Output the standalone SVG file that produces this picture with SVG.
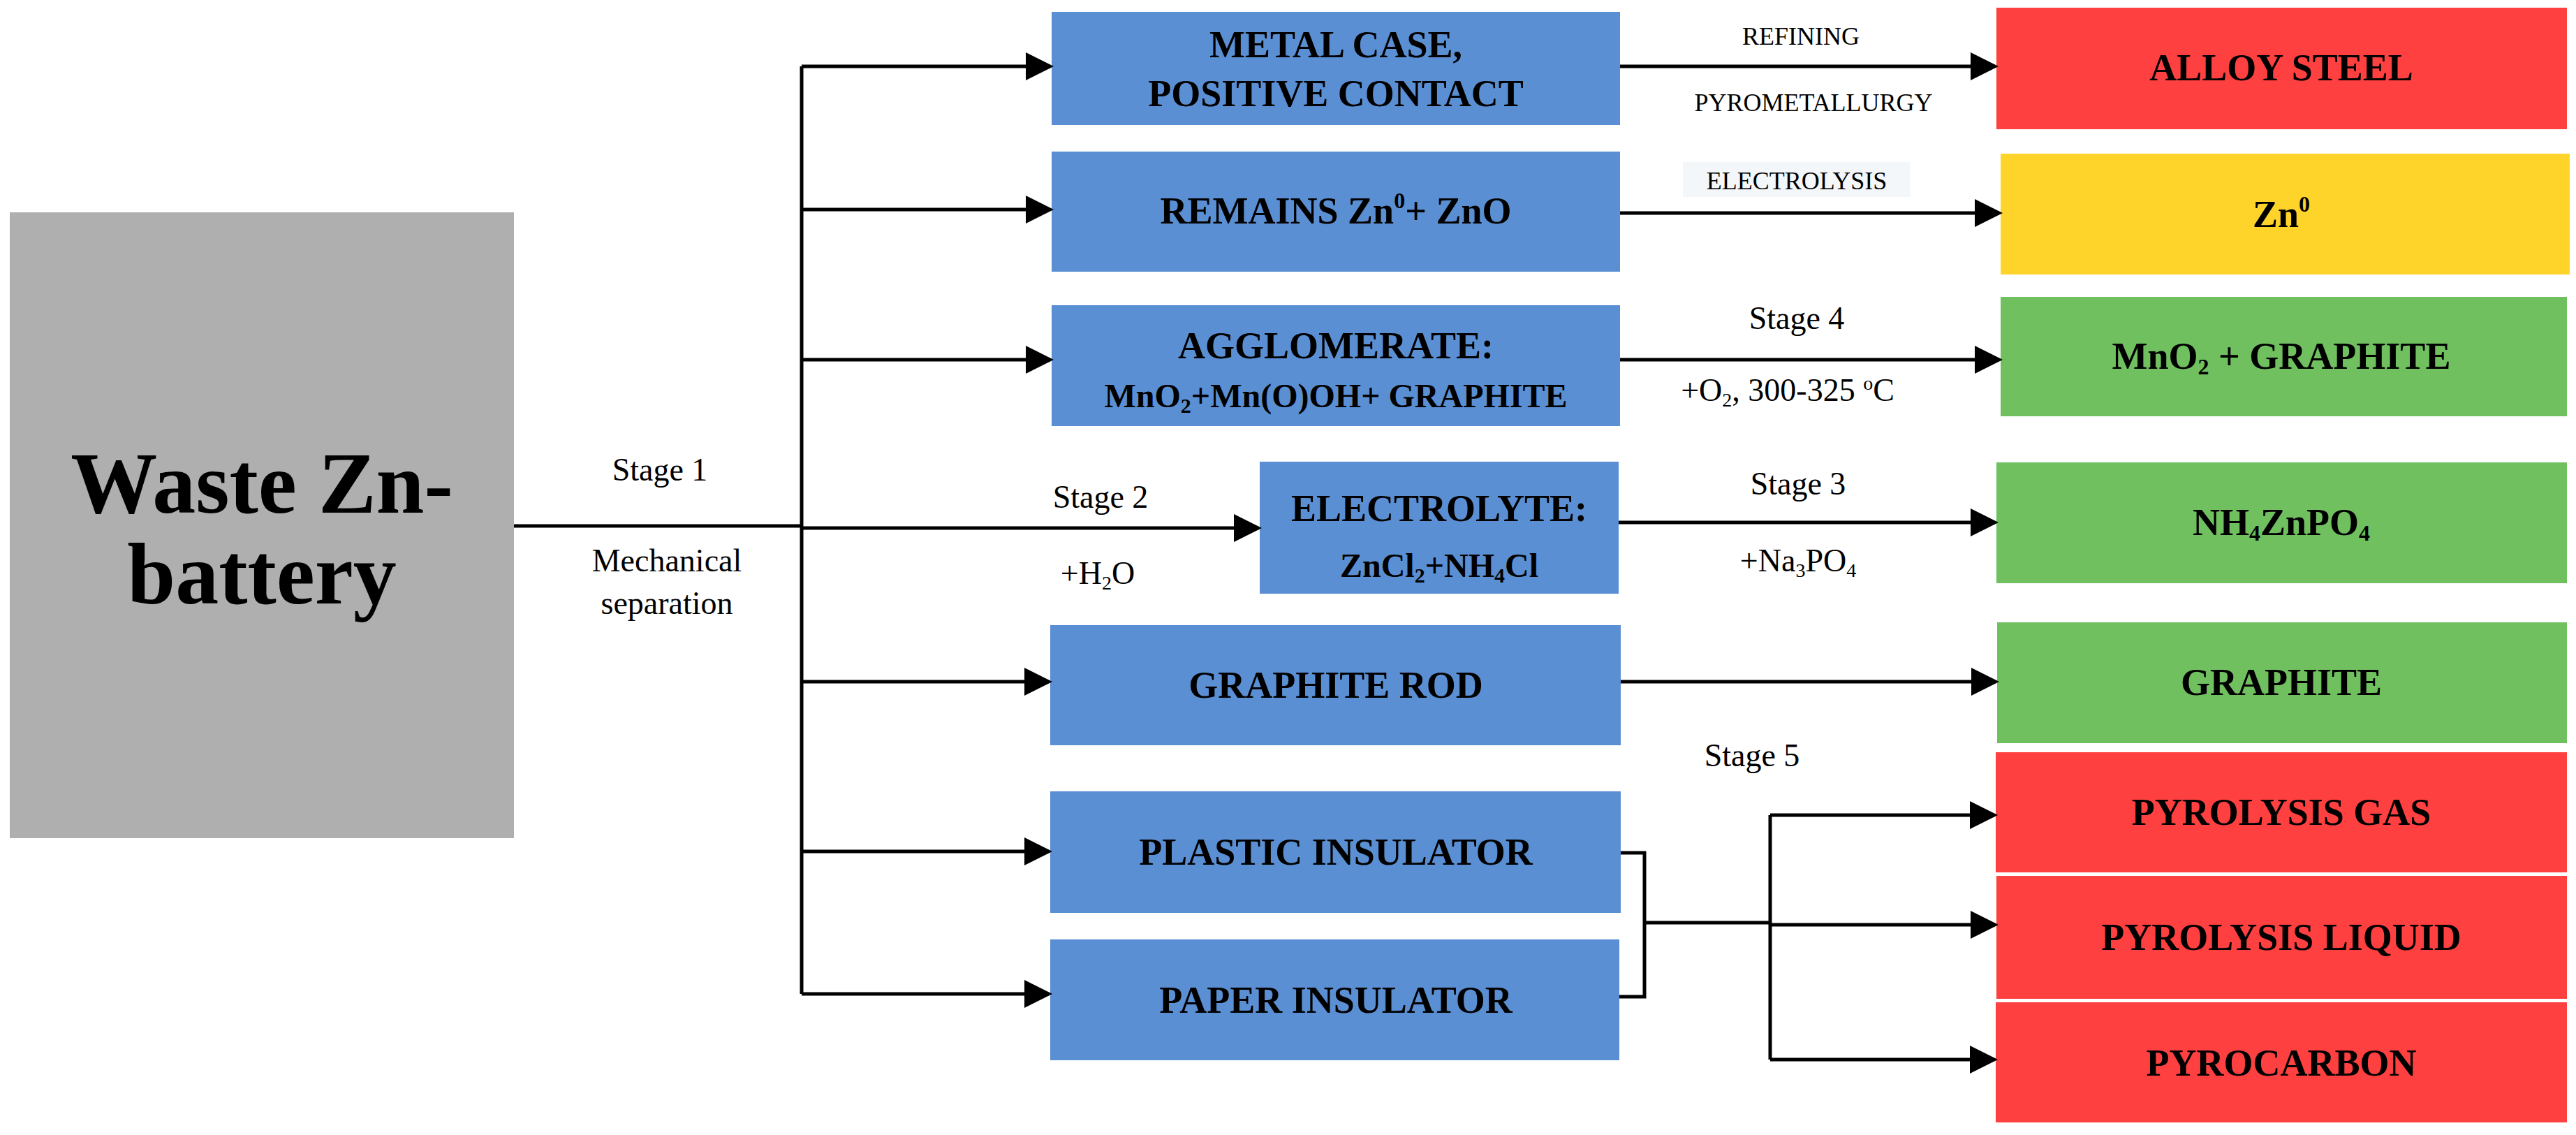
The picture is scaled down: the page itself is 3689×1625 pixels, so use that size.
<svg xmlns="http://www.w3.org/2000/svg" width="3689" height="1625" viewBox="0 0 3689 1625">
<style>
.b{fill:#5B8FD3}.r{fill:#FF4040}.y{fill:#FFD42A}.g{fill:#70C060}
.t{font-family:"Liberation Serif","Times New Roman",serif;font-weight:bold;font-size:54px;text-anchor:middle;fill:#000}
.s{font-family:"Liberation Serif","Times New Roman",serif;font-size:46px;text-anchor:middle;fill:#000}
.m{font-family:"Liberation Serif","Times New Roman",serif;font-size:36px;text-anchor:middle;fill:#000}
.c path{stroke:#000;stroke-width:5;fill:none}
</style>
<defs><marker id="a" markerWidth="8" markerHeight="8" refX="7" refY="4" orient="auto" markerUnits="strokeWidth"><path d="M0,0 L8,4 L0,8 z" fill="#000"/></marker></defs>
<rect width="3689" height="1625" fill="#fff"/>
<g id="waste"><rect x="14" y="304" width="722" height="896" fill="#AFAFAF"/>
<text class="t" x="375" y="734" style="font-size:124px">Waste Zn-</text><text class="t" x="375" y="864" style="font-size:124px">battery</text></g>
<g id="metal"><rect class="b" x="1506" y="17" width="814" height="162"/><text class="t" x="1913" y="82">METAL CASE,</text><text class="t" x="1913" y="152">POSITIVE CONTACT</text></g>
<g id="remains"><rect class="b" x="1506" y="217" width="814" height="172"/><text class="t" x="1913" y="320">REMAINS Zn<tspan style="font-size:32px" dy="-22">0</tspan><tspan dy="22">+ ZnO</tspan></text></g>
<g id="agglo"><rect class="b" x="1506" y="437" width="814" height="173"/><text class="t" x="1913" y="513">AGGLOMERATE:</text><text class="t" x="1913" y="583" style="font-size:48px">MnO<tspan style="font-size:30px" dy="8">2</tspan><tspan dy="-8">+Mn(O)OH+ GRAPHITE</tspan></text></g>
<g id="electrolyte"><rect class="b" x="1804" y="661" width="514" height="189"/><text class="t" x="2061" y="746">ELECTROLYTE:</text><text class="t" x="2061" y="826" style="font-size:48px">ZnCl<tspan style="font-size:30px" dy="8">2</tspan><tspan dy="-8">+NH</tspan><tspan style="font-size:30px" dy="8">4</tspan><tspan dy="-8">Cl</tspan></text></g>
<g id="rod"><rect class="b" x="1504" y="895" width="817" height="172"/><text class="t" x="1913" y="999">GRAPHITE ROD</text></g>
<g id="plastic"><rect class="b" x="1504" y="1133" width="817" height="174"/><text class="t" x="1913" y="1238">PLASTIC INSULATOR</text></g>
<g id="paper"><rect class="b" x="1504" y="1345" width="815" height="173"/><text class="t" x="1913" y="1450">PAPER INSULATOR</text></g>
<g id="alloy"><rect class="r" x="2859" y="11" width="817" height="174"/><text class="t" x="3267" y="115">ALLOY STEEL</text></g>
<g id="zn"><rect class="y" x="2865" y="220" width="815" height="173"/><text class="t" x="3267" y="325">Zn<tspan style="font-size:32px" dy="-22">0</tspan></text></g>
<g id="mno2"><rect class="g" x="2865" y="425" width="811" height="171"/><text class="t" x="3267" y="528">MnO<tspan style="font-size:32px" dy="8">2</tspan><tspan dy="-8"> + GRAPHITE</tspan></text></g>
<g id="nh4"><rect class="g" x="2859" y="662" width="817" height="173"/><text class="t" x="3267" y="766">NH<tspan style="font-size:32px" dy="8">4</tspan><tspan dy="-8">ZnPO</tspan><tspan style="font-size:32px" dy="8">4</tspan></text></g>
<g id="graphite"><rect class="g" x="2860" y="891" width="816" height="173"/><text class="t" x="3267" y="995">GRAPHITE</text></g>
<g id="gas"><rect class="r" x="2858" y="1077" width="818" height="172"/><text class="t" x="3267" y="1181">PYROLYSIS GAS</text></g>
<g id="liquid"><rect class="r" x="2859" y="1254" width="817" height="176"/><text class="t" x="3267" y="1360">PYROLYSIS LIQUID</text></g>
<g id="carbon"><rect class="r" x="2858" y="1435" width="818" height="172"/><text class="t" x="3267" y="1540">PYROCARBON</text></g>
<g class="c" id="connectors">
<path d="M736,753 H1150"/>
<path d="M1148,95 V1423"/>
<path d="M1148,95 H1504" marker-end="url(#a)"/>
<path d="M1148,300 H1504" marker-end="url(#a)"/>
<path d="M1148,515 H1504" marker-end="url(#a)"/>
<path d="M1148,756 H1802" marker-end="url(#a)"/>
<path d="M1148,976 H1502" marker-end="url(#a)"/>
<path d="M1148,1219 H1502" marker-end="url(#a)"/>
<path d="M1148,1423 H1502" marker-end="url(#a)"/>
<path d="M2320,95 H2857" marker-end="url(#a)"/>
<path d="M2320,305 H2863" marker-end="url(#a)"/>
<path d="M2320,515 H2863" marker-end="url(#a)"/>
<path d="M2318,748 H2857" marker-end="url(#a)"/>
<path d="M2321,976 H2858" marker-end="url(#a)"/>
<path d="M2321,1221 H2355 V1427 H2319"/>
<path d="M2355,1321 H2535"/>
<path d="M2535,1167 V1517"/>
<path d="M2535,1167 H2856" marker-end="url(#a)"/>
<path d="M2535,1324 H2857" marker-end="url(#a)"/>
<path d="M2535,1517 H2856" marker-end="url(#a)"/>
</g>
<g id="labels">
<text class="s" x="945" y="688">Stage 1</text>
<text class="s" x="955" y="818">Mechanical</text>
<text class="s" x="955" y="879">separation</text>
<text class="s" x="1576" y="727">Stage 2</text>
<text class="s" x="1572" y="836">+H<tspan style="font-size:28px" dy="8">2</tspan><tspan dy="-8">O</tspan></text>
<text class="m" x="2579" y="64">REFINING</text>
<text class="m" x="2597" y="159">PYROMETALLURGY</text>
<rect x="2410" y="232" width="326" height="50" fill="#F4F7FA"/>
<text class="m" x="2573" y="271" fill="#1F2D3D">ELECTROLYSIS</text>
<text class="s" x="2573" y="471">Stage 4</text>
<text class="s" x="2560" y="574">+O<tspan style="font-size:28px" dy="8">2</tspan><tspan dy="-8">, 300-325 </tspan><tspan style="font-size:28px" dy="-16">o</tspan><tspan dy="16">C</tspan></text>
<text class="s" x="2575" y="708">Stage 3</text>
<text class="s" x="2575" y="818">+Na<tspan style="font-size:28px" dy="8">3</tspan><tspan dy="-8">PO</tspan><tspan style="font-size:28px" dy="8">4</tspan></text>
<text class="s" x="2509" y="1097">Stage 5</text>
</g>
</svg>
